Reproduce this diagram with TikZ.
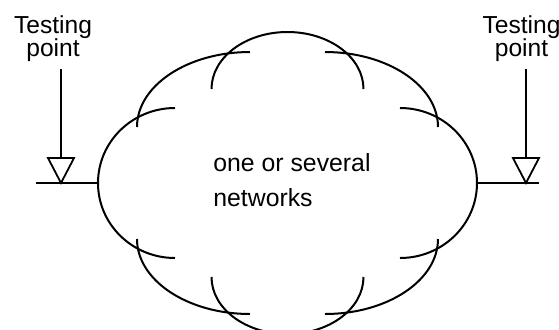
\documentclass[tikz,border=0pt]{standalone}
\usepackage{fontspec}
\setmainfont{Liberation Sans}
\usetikzlibrary{calc,positioning}

\begin{document}
\begin{tikzpicture}[x=0.5pt,y=-0.5pt]

\tikzset{cloudarc/.style={line width=1pt},
tpline/.style={line width=0.9pt},
tplabel/.style={font=\fontsize{12.3}{11.7}\selectfont,align=center,inner sep=0pt,anchor=north},
cloudtext/.style={font=\fontsize{12.4}{17.25}\selectfont,align=left,inner sep=0pt,anchor=north west}}

\useasboundingbox (0,0) rectangle (559,329);

% Cloud
\foreach \cx/\cy/\rx/\ry/\sa/\ea in {287.5/89/76/57/180/360, 287.5/277/76/57/180/0,
  250/127/113/75/180/270, 325/127/113/75/270/360, 175/183/77/75/270/90,
  400/183/77/75/-90/90, 250/239/113/75/180/90, 325/239/113/75/90/0}
  \draw[cloudarc] (\cx,\cy) ++(\sa:{\rx} and {\ry}) arc[start angle=\sa, end angle=\ea, x radius=\rx, y radius=\ry];
\coordinate (cloudWest) at (98,183);
\coordinate (cloudEast) at (477,183);
\node[cloudtext] (cloudLabel) at (213,153.5) {one or several\\networks};

% Testing points
\coordinate (tpLeft) at (61,183);
\coordinate (tpRight) at (526,183);
\coordinate (lineLeftEnd) at (36,183);
\coordinate (lineRightEnd) at (539.5,183);
\coordinate (tpLeftTop) at (61,69);
\coordinate (tpRightTop) at (526,69);
\node[tplabel] (tpLeftLabel) at (53,15) {Testing\\point};
\node[tplabel] (tpRightLabel) at (521.5,15) {Testing\\point};

\draw[tpline] (lineLeftEnd) -- (cloudWest);
\draw[tpline] (cloudEast) -- (lineRightEnd);
\foreach \p in {tpLeft, tpRight} {
  \draw[tpline] (\p) -- ++(-13,-25) -- ++(26,0) -- cycle; % triangle
  \draw[tpline] (\p Top) -- ($(\p) + (0,-25)$);
}

\end{tikzpicture}
\end{document}
